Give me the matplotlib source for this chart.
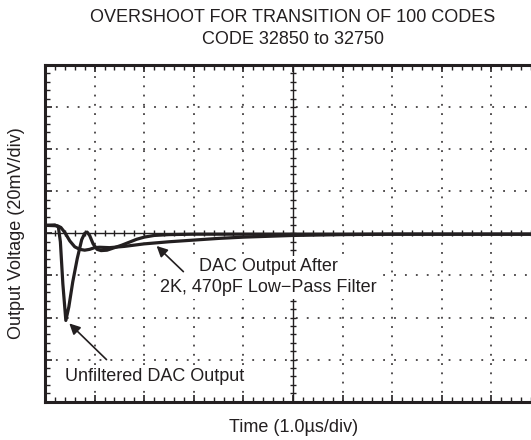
import matplotlib.pyplot as plt
import numpy as np
from matplotlib.ticker import MultipleLocator

plt.rcParams['font.family'] = ['Liberation Sans', 'DejaVu Sans']

# traces in screen divisions (x: 1.0us/div, y: 20mV/div, 0 = centre line)
unfilt_x = [0, 0.2, 0.27, 0.31, 0.36, 0.42, 0.48, 0.56, 0.65, 0.74, 0.8, 0.85,
            0.9, 0.97, 1.05, 1.13, 1.25, 1.4, 1.55, 1.7, 1.85, 2.0, 2.2, 2.5,
            3.0, 3.5, 4.5, 6.0, 8.0, 10.0]
unfilt_y = [0.19, 0.2, 0.15, -0.2, -1.2, -2.07, -1.75, -1.15, -0.6, -0.15, 0.0, 0.03,
            -0.05, -0.25, -0.38, -0.41, -0.4, -0.34, -0.28, -0.21, -0.14, -0.09, -0.05, -0.03,
            -0.02, -0.02, -0.02, -0.02, -0.02, -0.02]

filt_x = [0, 0.25, 0.32, 0.4, 0.5, 0.6, 0.7, 0.8, 0.9, 1.0, 1.1, 1.3, 1.6,
          2.0, 2.5, 3.0, 3.5, 4.0, 5.0, 6.0, 7.0, 8.0, 10.0]
filt_y = [0.19, 0.18, 0.14, 0.02, -0.18, -0.32, -0.38, -0.4, -0.38, -0.34, -0.33, -0.34, -0.31,
          -0.25, -0.2, -0.16, -0.12, -0.09, -0.05, -0.03, -0.02, -0.02, -0.02]

ink = '#231f20'
fs = 13

fig = plt.figure(figsize=(5.31, 4.40), dpi=100)
# axes runs past the right edge of the page, like the scanned scope plot
ax = fig.add_axes([45 / 531, 38.3 / 440, 496 / 531, 336.7 / 440])
ax.set_xlim(0, 10)
ax.set_ylim(-4, 4)

# dotted graticule, one dot per minor division
for gx in range(1, 10):
    if gx != 5:
        ax.axvline(gx, color=ink, lw=1.1, linestyle=(0, (1.2, 4.86)), zorder=1)
for gy in range(-3, 4):
    if gy != 0:
        ax.axhline(gy, color=ink, lw=1.1, linestyle=(0, (1.2, 5.94)), zorder=1)

# centre cross with its own tick marks
ax.axhline(0, color=ink, lw=1.0, zorder=1)
ax.axvline(5, color=ink, lw=1.0, zorder=1)
cx = np.arange(0.2, 10, 0.2)
cy = np.arange(-3.8, 4, 0.2)
ax.plot(cx, np.zeros_like(cx), ls='none', marker='|', ms=5, mew=1.0, color=ink, zorder=1)
ax.plot(np.full_like(cy, 5), cy, ls='none', marker='_', ms=5, mew=1.0, color=ink, zorder=1)

ax.plot(filt_x, filt_y, color=ink, lw=2.3, zorder=3)
ax.plot(unfilt_x, unfilt_y, color=ink, lw=2.3, zorder=3)

for side in ['left', 'bottom', 'top']:
    ax.spines[side].set_linewidth(2.2)
    ax.spines[side].set_color(ink)
ax.spines['right'].set_visible(False)

ax.xaxis.set_major_locator(MultipleLocator(1))
ax.xaxis.set_minor_locator(MultipleLocator(0.2))
ax.yaxis.set_major_locator(MultipleLocator(1))
ax.yaxis.set_minor_locator(MultipleLocator(0.2))
ax.tick_params(which='both', direction='in', top=True, bottom=True, left=True, right=False,
               labelbottom=False, labelleft=False, color=ink)
ax.tick_params(which='major', length=5, width=1.2)
ax.tick_params(which='minor', length=3.5, width=1.0)

arrow = dict(arrowstyle='-|>', color=ink, lw=1.2, mutation_scale=16, shrinkA=0, shrinkB=0)
ax.annotate('', xy=(2.25, -0.3), xytext=(2.79, -0.91), arrowprops=arrow, zorder=4)
ax.annotate('', xy=(0.49, -2.14), xytext=(1.24, -3.0), arrowprops=arrow, zorder=4)

# labels sit on white patches that hide the graticule behind them
box = dict(facecolor='white', edgecolor='none', pad=1.5)
ax.text(4.5, -1.04, 'DAC Output After\n2K, 470pF Low\u2212Pass Filter', ha='center', va='center',
        multialignment='center', linespacing=1.35, fontsize=fs, color=ink, bbox=box, zorder=2)
ax.text(0.4, -3.39, 'Unfiltered DAC Output', ha='left', va='center', fontsize=fs, color=ink,
        bbox=box, zorder=2)

fig.text(0.552, 1 - 17 / 440, 'OVERSHOOT FOR TRANSITION OF 100 CODES', ha='center', va='center',
         fontsize=fs, color=ink)
fig.text(0.552, 1 - 40 / 440, 'CODE 32850 to 32750', ha='center', va='center',
         fontsize=fs, color=ink)
fig.text(0.552, 1 - 427 / 440, 'Time (1.0\u00b5s/div)', ha='center', va='center',
         fontsize=fs, color=ink)
fig.text(0.032, 1 - 233 / 440, 'Output Voltage (20mV/div)', ha='center', va='center',
         rotation=90, fontsize=fs, color=ink)

fig.savefig('out.png', dpi=100)
